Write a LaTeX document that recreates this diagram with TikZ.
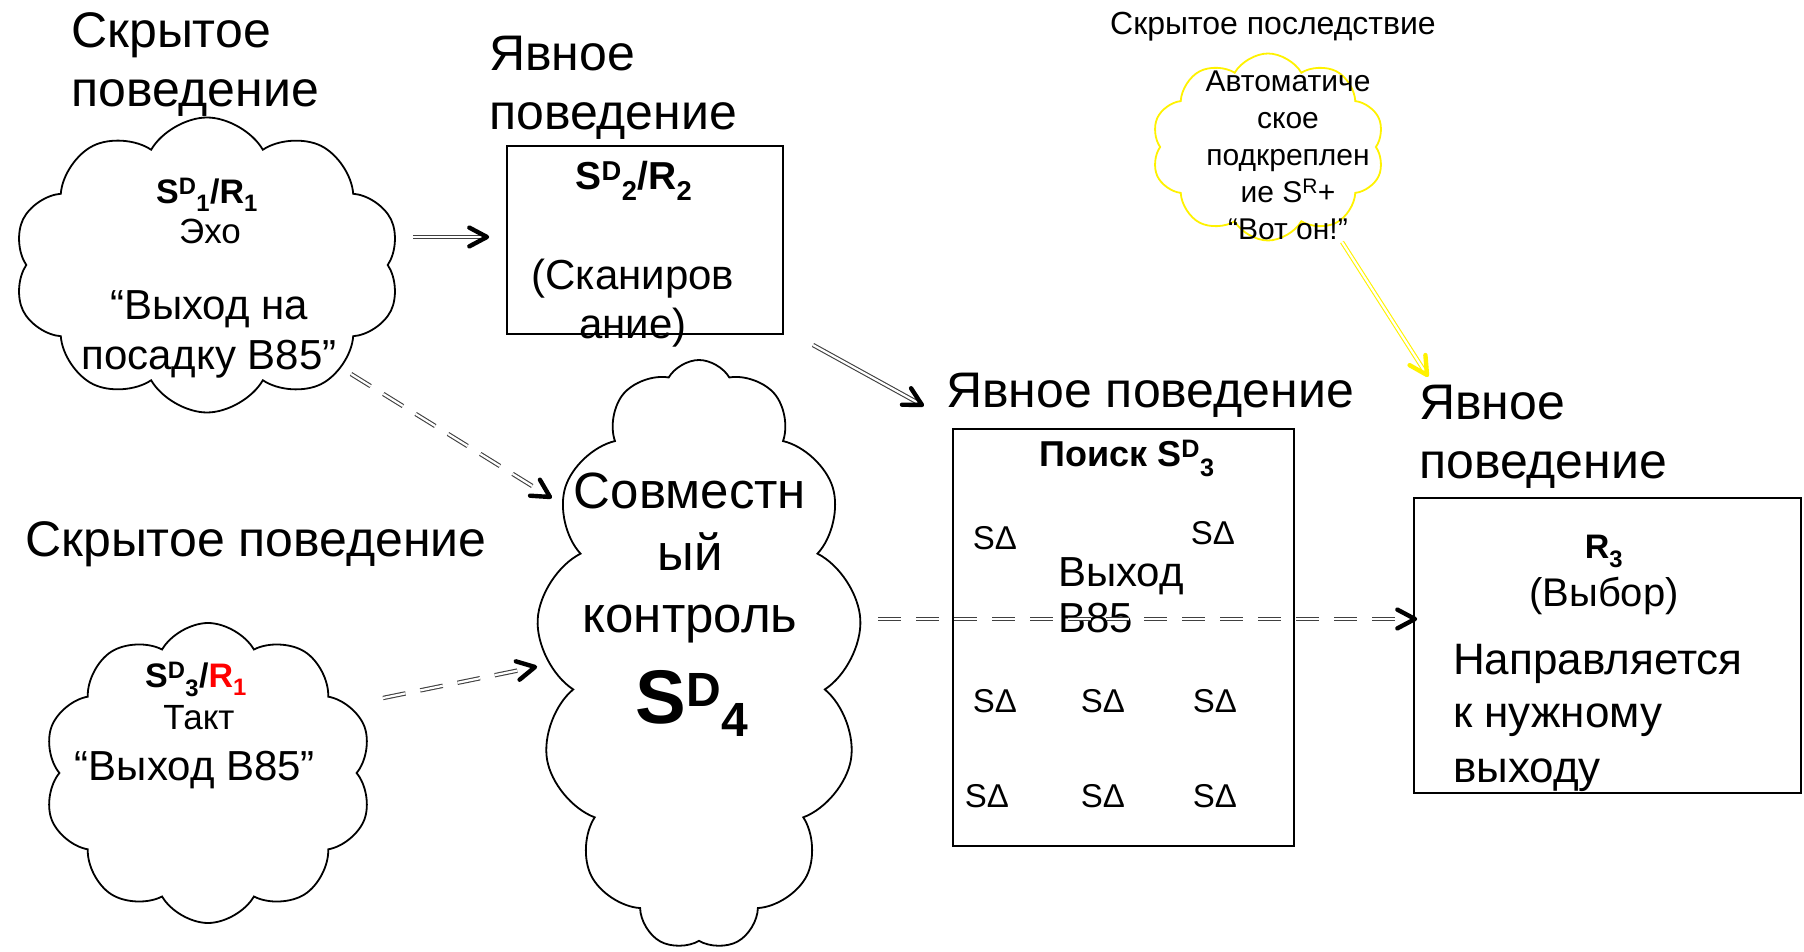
\documentclass[tikz,border=0pt]{standalone}
\usepackage{fontspec}
\setmainfont{Liberation Sans}
\usetikzlibrary{shapes.symbols,calc}

\tikzset{
  cloudy/.style={cloud, cloud puffs=10, cloud puff arc=120, cloud ignores aspect,
    draw, line width=1.8pt, inner sep=0pt},
  box/.style={draw, line width=1.8pt, inner sep=0pt},
  hdr/.style={font=\fontsize{50}{59}\selectfont, inner sep=0pt, align=left, anchor=base west},
  lab/.style={font=\fontsize{34}{40}\selectfont\bfseries, inner sep=0pt, anchor=base},
  txt/.style={font=\fontsize{35}{40}\selectfont, inner sep=0pt, anchor=base},
  quote/.style={font=\fontsize{42}{50}\selectfont, inner sep=0pt, anchor=base, align=center},
  sdelta/.style={font=\fontsize{33}{38}\selectfont, inner sep=0pt, anchor=base},
  shaft/.style={draw=black!75, line width=1.1pt, double=white, double distance=2.2pt},
  dshaft/.style={shaft, dash pattern=on 23pt off 15pt},
  yshaft/.style={shaft, draw=yellow},
  head/.style={line width=4.4pt, line cap=round, line join=round}
}
% double shaft plus a thick open head at the far end
\newcommand\dblarrow[4]{%
  \draw[#1] (#3) -- (#4);
  \draw[head, draw=#2] ($(#4)!20pt!28:(#3)$) -- (#4) -- ($(#4)!20pt!-28:(#3)$);}

\begin{document}
\begin{tikzpicture}[x=100pt,y=100pt]
  \useasboundingbox (0,0) rectangle (18.04,9.51);

  % headings
  \node[hdr] (hid1) at (0.71,8.44) {Скрытое\\поведение};
  \node[hdr] (exp1) at (4.89,8.21) {Явное\\поведение};
  \node[hdr, font=\fontsize{32}{38}\selectfont] (cons) at (11.10,9.16) {Скрытое последствие};
  \node[hdr] (exp2) at (9.46,5.43) {Явное поведение};
  \node[hdr] (hid2) at (0.25,3.94) {Скрытое поведение};
  \node[hdr] (exp3) at (14.19,4.72) {Явное\\поведение};

  % clouds
  \node[cloudy, minimum width=387pt, minimum height=295pt] (echo) at (2.07,6.86) {};
  \node[cloudy, minimum width=329pt, minimum height=300pt] (tact) at (2.08,1.78) {};
  \node[cloudy, cloud puffs=13, minimum width=325pt, minimum height=590pt] (ctrl) at (6.99,2.96) {};
  \node[cloudy, draw=yellow, minimum width=233pt, minimum height=187pt] (reinf) at (12.68,8.04) {};

  % boxes
  \node[box, minimum width=276pt, minimum height=188pt] (scan) at (6.45,7.11) {};
  \node[box, minimum width=341pt, minimum height=417pt] (search) at (11.235,3.135) {};
  \node[box, minimum width=387pt, minimum height=295pt] (choice) at (16.075,3.055) {};

  % cloud texts
  \node[lab] (echo-s) at (2.07,7.47) {S\textsuperscript{D}\textsubscript{1}/R\textsubscript{1}};
  \node[txt] (echo-t) at (2.10,7.07) {Эхо};
  \node[quote] (echo-q) at (2.09,5.81) {“Выход на\\посадку B85”};

  \node[lab] (tact-s) at (1.96,2.63) {S\textsuperscript{D}\textsubscript{3}/\textcolor{red}{R\textsubscript{1}}};
  \node[txt] (tact-t) at (1.99,2.21) {Такт};
  \node[quote] (tact-q) at (1.95,1.71) {“Выход B85”};

  \node[quote, font=\fontsize{51}{62}\selectfont] (ctrl-t) at (6.90,3.18) {Совместн\\ый\\контроль};
  \node[lab, font=\fontsize{76}{80}\selectfont\bfseries] (ctrl-s) at (6.92,2.28)
    {S\raisebox{16pt}{\fontsize{48}{50}\selectfont D}\raisebox{-14pt}{\fontsize{48}{50}\selectfont 4}};

  \node[quote, font=\fontsize{30}{37}\selectfont] (reinf-t) at (12.88,7.11)
    {Автоматиче\\ское\\подкреплен\\ие S\textsuperscript{R}+\\“Вот он!”};

  % box texts
  \node[lab, font=\fontsize{39}{44}\selectfont\bfseries] (scan-s) at (6.34,7.61)
    {S\textsuperscript{D}\textsubscript{2}/R\textsubscript{2}};
  \node[quote, font=\fontsize{42}{49}\selectfont] (scan-t) at (6.33,6.12) {(Сканиров\\ание)};

  \node[lab, font=\fontsize{36}{40}\selectfont\bfseries] (search-s) at (11.27,4.84)
    {Поиск S\textsuperscript{D}\textsubscript{3}};
  \foreach \x/\y [count=\i] in {9.95/4.01, 12.13/4.06, 9.95/2.38, 11.03/2.38,
      12.15/2.38, 9.87/1.44, 11.03/1.44, 12.15/1.44}
    \node[sdelta] (sd\i) at (\x,\y) {SΔ};
  \node[hdr, font=\fontsize{42}{46}\selectfont] (gate) at (10.58,3.18) {Выход\\B85};

  \node[lab] (choice-r) at (16.04,3.92) {R\textsubscript{3}};
  \node[txt, font=\fontsize{40}{46}\selectfont] (choice-t) at (16.04,3.44) {(Выбор)};
  \node[hdr, font=\fontsize{44}{54}\selectfont] (choice-d) at (14.53,1.69) {Направляется\\к нужному\\выходу};

  % arrows
  \coordinate (a1) at (4.13,7.14);  \coordinate (a2) at (4.87,7.14);
  \coordinate (b1) at (8.13,6.06);  \coordinate (b2) at (9.22,5.46);
  \coordinate (c1) at (3.51,5.77);  \coordinate (c2) at (5.50,4.54);
  \coordinate (d1) at (3.83,2.53);  \coordinate (d2) at (5.35,2.84);
  \coordinate (e1) at (8.78,3.32);  \coordinate (e2) at (14.15,3.32);
  \coordinate (f1) at (13.42,7.09); \coordinate (f2) at (14.27,5.76);

  \dblarrow{shaft}{black}{a1}{a2}
  \dblarrow{shaft}{black}{b1}{b2}
  \dblarrow{dshaft}{black}{c1}{c2}
  \dblarrow{dshaft}{black}{d1}{d2}
  \dblarrow{dshaft}{black}{e1}{e2}
  \dblarrow{yshaft}{yellow}{f1}{f2}
\end{tikzpicture}
\end{document}
